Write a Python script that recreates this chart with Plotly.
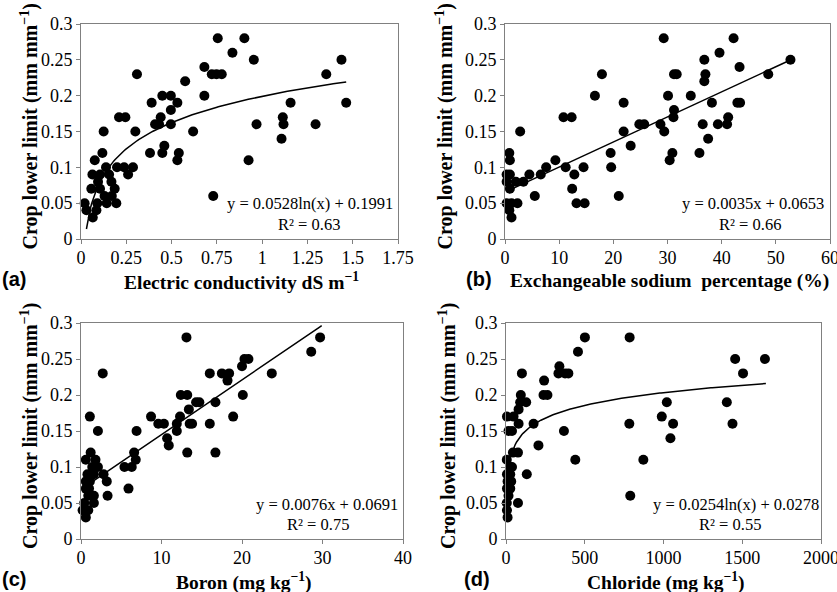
import numpy as np
import plotly.graph_objects as go

# ---- data -----------------------------------------------------------------
ec_x = [0.755, 0.902, 0.836, 0.954, 1.438, 0.681, 0.722, 0.748, 0.777, 1.354,
        0.309, 0.575, 0.681, 0.449, 0.496, 0.39, 0.532, 1.157, 1.464, 0.496,
        0.44, 1.114, 0.21, 0.245, 0.409, 0.431, 0.496, 0.969, 1.118, 1.295,
        0.619, 0.125, 0.30, 1.107, 0.46, 0.381, 0.449, 0.54, 0.118, 0.532,
        0.925, 0.076, 0.138, 0.199, 0.238, 0.287, 0.26, 0.063, 0.105, 0.155,
        0.094, 0.168, 0.057, 0.105, 0.186, 0.73, 0.13, 0.17, 0.02, 0.09,
        0.142, 0.195, 0.03, 0.085, 0.065]
ec_y = [0.28, 0.28, 0.26, 0.25, 0.25, 0.24, 0.23, 0.23, 0.23, 0.23,
        0.23, 0.22, 0.20, 0.20, 0.20, 0.19, 0.19, 0.19, 0.19, 0.18,
        0.17, 0.17, 0.17, 0.17, 0.16, 0.16, 0.16, 0.16, 0.16, 0.16,
        0.15, 0.15, 0.15, 0.14, 0.13, 0.12, 0.12, 0.12, 0.12, 0.11,
        0.11, 0.11, 0.10, 0.10, 0.10, 0.10, 0.09, 0.09, 0.09, 0.09,
        0.08, 0.08, 0.07, 0.07, 0.07, 0.06, 0.06, 0.06, 0.05, 0.05,
        0.05, 0.05, 0.04, 0.04, 0.03]

esp_x = [29.3, 42.2, 39.6, 36.8, 52.7, 43.3, 17.9, 31.2, 31.7, 37.0,
         48.6, 36.8, 16.6, 30.1, 34.3, 21.9, 38.2, 42.9, 43.4, 31.2,
         10.8, 12.3, 31.1, 41.2, 24.8, 25.7, 28.7, 36.5, 39.3, 41.0,
         21.9, 29.4, 2.8, 37.5, 23.2, 19.5, 30.9, 35.9, 0.8, 30.4,
         0.9, 9.3, 19.6, 14.5, 11.2, 7.6, 0.9, 0.3, 4.5, 6.6,
         12.8, 0.3, 2.0, 3.4, 0.9, 12.4, 5.5, 21.0, 13.2, 14.7,
         0.3, 1.2, 2.3, 0.8, 1.2]
esp_y = [0.28, 0.28, 0.26, 0.25, 0.25, 0.24, 0.23, 0.23, 0.23, 0.23,
         0.23, 0.22, 0.20, 0.20, 0.20, 0.19, 0.19, 0.19, 0.19, 0.18,
         0.17, 0.17, 0.17, 0.17, 0.16, 0.16, 0.16, 0.16, 0.16, 0.16,
         0.15, 0.15, 0.15, 0.14, 0.13, 0.12, 0.12, 0.12, 0.12, 0.11,
         0.11, 0.11, 0.10, 0.10, 0.10, 0.10, 0.09, 0.09, 0.09, 0.09,
         0.09, 0.08, 0.08, 0.08, 0.07, 0.07, 0.06, 0.06, 0.05, 0.05,
         0.05, 0.05, 0.05, 0.04, 0.03]

boron_x = [29.7, 13.1, 28.6, 20.3, 20.8, 20.0, 2.7, 16.0, 17.5, 18.4,
           23.7, 18.2, 12.4, 13.2, 20.1, 14.3, 14.7, 16.7, 13.4, 12.3,
           8.7, 18.9, 1.1, 9.6, 10.3, 11.9, 13.5, 13.8, 16.0, 11.9,
           6.9, 2.1, 10.7, 10.9, 13.2, 16.7, 6.6, 1.2, 6.8, 0.6,
           1.8, 5.4, 6.3, 1.4, 2.1, 0.8, 1.6, 2.8, 3.2, 1.1,
           0.6, 5.9, 0.6, 1.0, 3.3, 0.9, 1.6, 0.4, 1.6, 0.2,
           0.9, 0.6]
boron_y = [0.28, 0.28, 0.26, 0.25, 0.25, 0.24, 0.23, 0.23, 0.23, 0.23,
           0.23, 0.22, 0.20, 0.20, 0.20, 0.19, 0.19, 0.19, 0.18, 0.17,
           0.17, 0.17, 0.17, 0.16, 0.16, 0.16, 0.16, 0.16, 0.16, 0.15,
           0.15, 0.15, 0.14, 0.13, 0.12, 0.12, 0.12, 0.12, 0.11, 0.11,
           0.11, 0.10, 0.10, 0.10, 0.10, 0.09, 0.09, 0.09, 0.08, 0.08,
           0.08, 0.07, 0.07, 0.07, 0.06, 0.06, 0.06, 0.05, 0.05, 0.04,
           0.04, 0.03]

chloride_x = [501, 785, 457, 339, 1455, 1644, 333, 375, 396, 1505,
              101, 242, 238, 263, 94, 1021, 1402, 90, 128, 80,
              6, 48, 989, 80, 175, 783, 1061, 1438, 16, 38,
              368, 1044, 206, 44, 76, 5, 440, 872, 27, 38,
              6, 27, 132, 10, 33, 6, 27, 16, 789, 5,
              76, 6, 10]
chloride_y = [0.28, 0.28, 0.26, 0.24, 0.25, 0.25, 0.23, 0.23, 0.23, 0.23,
              0.23, 0.22, 0.20, 0.20, 0.20, 0.19, 0.19, 0.19, 0.19, 0.18,
              0.17, 0.17, 0.17, 0.16, 0.16, 0.16, 0.16, 0.16, 0.15, 0.15,
              0.15, 0.14, 0.13, 0.12, 0.12, 0.11, 0.11, 0.11, 0.10, 0.10,
              0.09, 0.09, 0.09, 0.08, 0.08, 0.07, 0.07, 0.06, 0.06, 0.05,
              0.05, 0.04, 0.03]

# fitted trend lines (coefficients as printed on each panel)
ec_fit = (0.0528, 0.1991, "log", 0.03, 1.464)
esp_fit = (0.0035, 0.0653, "lin", 1.0, 52.7)
boron_fit = (0.0076, 0.0691, "lin", 1.0, 29.9)
chloride_fit = (0.0254, 0.0278, "log", 35, 1650)

ec_ticks = [0, 0.25, 0.5, 0.75, 1, 1.25, 1.5, 1.75]
esp_ticks = [0, 10, 20, 30, 40, 50, 60]
boron_ticks = [0, 10, 20, 30, 40]
chloride_ticks = [0, 500, 1000, 1500, 2000]
y_ticks = [0, 0.05, 0.1, 0.15, 0.2, 0.25, 0.3]

# ---- layout helpers ---------------------------------------------------------
W, H = 837, 592


def px(x):
    return x / W


def py(y):
    return 1 - y / H


SERIF = "'Times New Roman', 'Liberation Serif', serif"
SANS = "Arial, 'Liberation Sans', sans-serif"
GREY = "#808080"

panels = [
    dict(x=ec_x, y=ec_y, fit=ec_fit, ticks=ec_ticks, box=(81, 398, 24, 239),
         xtitle="<b>Electric conductivity dS m<sup>−1</sup></b>", tag="(a)",
         eq="y = 0.0528ln(x) + 0.1991", r2="R² = 0.63",
         eqpos=(310, 204), r2pos=(309, 224), tagx=14, ytx=29),
    dict(x=esp_x, y=esp_y, fit=esp_fit, ticks=esp_ticks, box=(505, 830, 24, 239),
         xtitle="<b>Exchangeable sodium  percentage (%)</b>", tag="(b)",
         eq="y = 0.0035x + 0.0653", r2="R² = 0.66",
         eqpos=(753, 204), r2pos=(750, 224), tagx=479, ytx=444),
    dict(x=boron_x, y=boron_y, fit=boron_fit, ticks=boron_ticks, box=(81, 403, 323, 539),
         xtitle="<b>Boron (mg kg<sup>−1</sup>)</b>", tag="(c)",
         eq="y = 0.0076x + 0.0691", r2="R² = 0.75",
         eqpos=(327, 504), r2pos=(318, 524), tagx=14, ytx=29),
    dict(x=chloride_x, y=chloride_y, fit=chloride_fit, ticks=chloride_ticks, box=(506, 821, 323, 539),
         xtitle="<b>Chloride (mg kg<sup>−1</sup>)</b>", tag="(d)",
         eq="y = 0.0254ln(x) + 0.0278", r2="R² = 0.55",
         eqpos=(736, 504), r2pos=(730, 524), tagx=477, ytx=447),
]

fig = go.Figure()
annotations = []
layout_axes = {}

for i, p in enumerate(panels, start=1):
    xa = "x" if i == 1 else f"x{i}"
    ya = "y" if i == 1 else f"y{i}"
    x0, x1, y0, y1 = p["box"]

    fig.add_trace(go.Scatter(
        x=p["x"], y=p["y"], mode="markers", xaxis=xa, yaxis=ya,
        marker=dict(color="black", size=10, line=dict(width=0)),
        cliponaxis=False, showlegend=False, hoverinfo="skip"))

    a, b, kind, lo, hi = p["fit"]
    xs = np.linspace(lo, hi, 200)
    ys = a * np.log(xs) + b if kind == "log" else a * xs + b
    fig.add_trace(go.Scatter(
        x=xs, y=ys, mode="lines", xaxis=xa, yaxis=ya,
        line=dict(color="black", width=1.5), cliponaxis=False,
        showlegend=False, hoverinfo="skip"))

    axis_common = dict(
        showline=True, linecolor=GREY, linewidth=1, mirror=True,
        ticks="outside", ticklen=4, tickcolor=GREY, tickwidth=1,
        showgrid=False, zeroline=False, automargin=False,
        ticklabeloverflow="allow",
        tickfont=dict(family=SERIF, size=18, color="black"))

    xkey = "xaxis" if i == 1 else f"xaxis{i}"
    ykey = "yaxis" if i == 1 else f"yaxis{i}"
    layout_axes[xkey] = dict(
        axis_common, domain=[px(x0), px(x1)], anchor=ya,
        range=[p["ticks"][0], p["ticks"][-1]], tickvals=p["ticks"],
        ticktext=[f"{t:g}" for t in p["ticks"]], ticklabelstandoff=-2)
    layout_axes[ykey] = dict(
        axis_common, domain=[py(y1), py(y0)], anchor=xa,
        range=[0, 0.3], tickvals=y_ticks,
        ticktext=[f"{t:g}" for t in y_ticks])

    cx = (x0 + x1) / 2
    annotations += [
        dict(text=p["xtitle"], x=px(cx + 2), y=py(y1 + 42), xref="paper", yref="paper",
             showarrow=False, xanchor="center", yanchor="middle",
             font=dict(family=SERIF, size=19.5, color="black")),
        dict(text="<b>Crop lower limit (mm mm<sup>−1</sup>)</b>", textangle=-90,
             x=px(p["ytx"]), y=py((y0 + y1) / 2 - 5), xref="paper", yref="paper",
             showarrow=False, xanchor="center", yanchor="middle",
             font=dict(family=SERIF, size=20, color="black")),
        dict(text=f"<b>{p['tag']}</b>", x=px(p["tagx"]), y=py(y1 + 40),
             xref="paper", yref="paper", showarrow=False,
             xanchor="center", yanchor="middle",
             font=dict(family=SANS, size=20, color="black")),
        dict(text=p["eq"], x=px(p["eqpos"][0]), y=py(p["eqpos"][1]),
             xref="paper", yref="paper", showarrow=False,
             xanchor="center", yanchor="middle",
             font=dict(family=SERIF, size=16.5, color="black")),
        dict(text=p["r2"], x=px(p["r2pos"][0]), y=py(p["r2pos"][1]),
             xref="paper", yref="paper", showarrow=False,
             xanchor="center", yanchor="middle",
             font=dict(family=SERIF, size=16.5, color="black")),
    ]

fig.update_layout(
    width=W, height=H, margin=dict(l=0, r=0, t=0, b=0),
    paper_bgcolor="white", plot_bgcolor="white",
    annotations=annotations, **layout_axes)

# page without body margin so the figure fills the window exactly
fig.write_html(
    "out.html",
    post_script="document.body.style.margin='0';document.body.style.overflow='hidden';")
